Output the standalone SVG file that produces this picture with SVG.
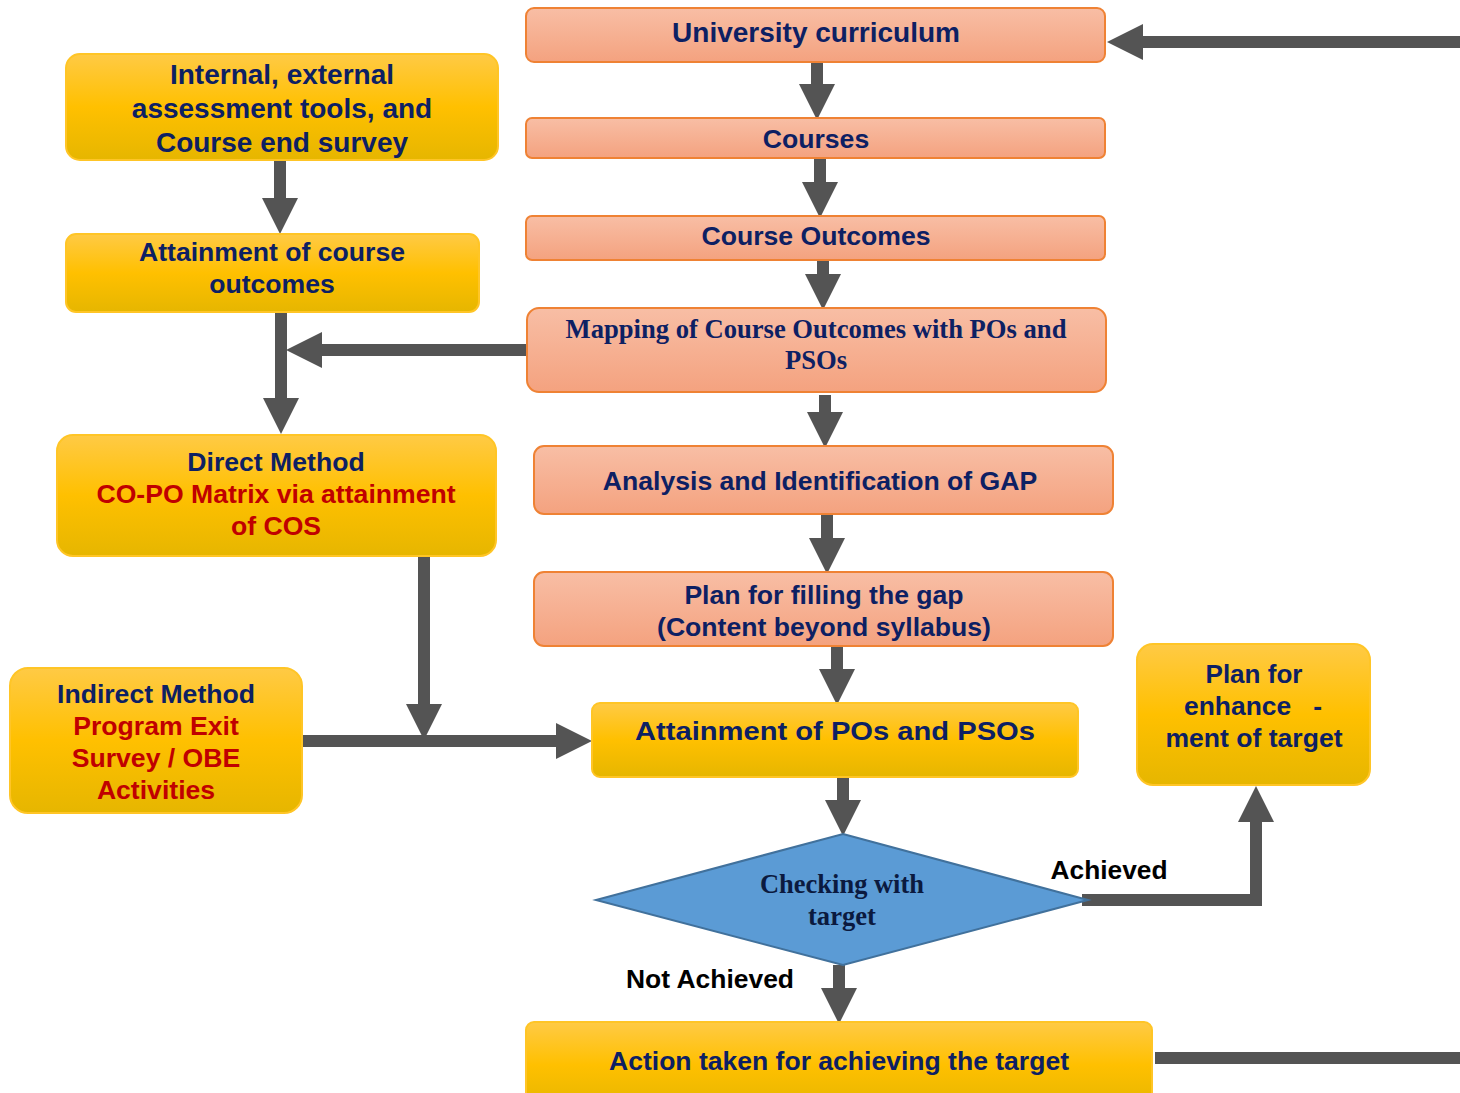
<svg xmlns="http://www.w3.org/2000/svg" width="1460" height="1093" viewBox="0 0 1460 1093">
  <defs>
    <linearGradient id="gOrange" x1="0" y1="0" x2="0" y2="1">
      <stop offset="0" stop-color="#f8bea5"/>
      <stop offset="1" stop-color="#f4a27f"/>
    </linearGradient>
    <linearGradient id="gYellow" x1="0" y1="0" x2="0" y2="1">
      <stop offset="0" stop-color="#ffca45"/>
      <stop offset="0.5" stop-color="#ffc000"/>
      <stop offset="1" stop-color="#e6b600"/>
    </linearGradient>
    <marker id="head" viewBox="0 0 3 3" markerWidth="3" markerHeight="3" refX="0" refY="1.5" orient="auto" markerUnits="strokeWidth">
      <path d="M0,0 L3,1.5 L0,3 Z" fill="#545454"/>
    </marker>
  </defs>
  <style>
    .orange { fill: url(#gOrange); stroke: #ef8234; stroke-width: 2; }
    .yellow { fill: url(#gYellow); stroke: #ffc526; stroke-width: 2; }
    .t { font-family: "Liberation Sans", Arial, sans-serif; font-weight: bold; text-anchor: middle; font-size: 26.6px; fill: #0d2063; }
    .big { font-size: 28px; }
    .serif { font-family: "Liberation Serif", "Times New Roman", serif; }
    .red { fill: #c00000; }
    .blk { fill: #000000; }
    .conn { fill: none; stroke: #545454; stroke-width: 12; }
    .arrow { marker-end: url(#head); }
  </style>

  <!-- connectors -->
  <g id="connectors">
    <path class="conn arrow" d="M1460,42 H1143"/>
    <path class="conn arrow" d="M817,62 V84"/>
    <path class="conn arrow" d="M820,158 V182"/>
    <path class="conn arrow" d="M823,254 V274"/>
    <path class="conn arrow" d="M825,395 V412"/>
    <path class="conn arrow" d="M827,514 V538"/>
    <path class="conn arrow" d="M837,646 V669"/>
    <path class="conn arrow" d="M843,777 V800"/>
    <path class="conn arrow" d="M839,965 V988"/>
    <path class="conn arrow" d="M1082,900 H1256 V822"/>
    <path class="conn" d="M1155,1058 H1460"/>
    <path class="conn arrow" d="M280,160 V198"/>
    <path class="conn arrow" d="M281,312 V398"/>
    <path class="conn arrow" d="M527,350 H322"/>
    <path class="conn arrow" d="M424,548 V704"/>
    <path class="conn arrow" d="M302,741 H556"/>
  </g>

  <!-- right column -->
  <g id="university-curriculum">
    <rect class="orange" x="526" y="8" width="579" height="54" rx="8"/>
    <text class="t big" x="816" y="42">University curriculum</text>
  </g>
  <g id="courses">
    <rect class="orange" x="526" y="118" width="579" height="40" rx="6"/>
    <text class="t" x="816" y="148">Courses</text>
  </g>
  <g id="course-outcomes">
    <rect class="orange" x="526" y="216" width="579" height="44" rx="6"/>
    <text class="t" x="816" y="245">Course Outcomes</text>
  </g>
  <g id="mapping">
    <rect class="orange" x="527" y="308" width="579" height="84" rx="12"/>
    <text class="t serif" x="816" y="338">Mapping of Course Outcomes with POs and</text>
    <text class="t serif" x="816" y="369">PSOs</text>
  </g>
  <g id="gap-analysis">
    <rect class="orange" x="534" y="446" width="579" height="68" rx="10"/>
    <text class="t" x="820" y="490">Analysis and Identification of GAP</text>
  </g>
  <g id="gap-plan">
    <rect class="orange" x="534" y="572" width="579" height="74" rx="10"/>
    <text class="t" x="824" y="604">Plan for filling the gap</text>
    <text class="t" x="824" y="636">(Content beyond syllabus)</text>
  </g>
  <g id="po-attainment">
    <rect class="yellow" x="592" y="703" width="486" height="74" rx="8"/>
    <text class="t" x="835" y="740" font-size="31" textLength="400" lengthAdjust="spacingAndGlyphs">Attainment of POs and PSOs</text>
  </g>
  <g id="enhancement-plan">
    <rect class="yellow" x="1137" y="644" width="233" height="141" rx="16"/>
    <text class="t" x="1254" y="683" textLength="97" lengthAdjust="spacingAndGlyphs">Plan for</text>
    <text class="t" x="1253" y="715" textLength="138" lengthAdjust="spacingAndGlyphs" xml:space="preserve">enhance   -</text>
    <text class="t" x="1254" y="747" textLength="177" lengthAdjust="spacingAndGlyphs">ment of target</text>
  </g>
  <g id="target-check">
    <polygon points="843,834 1088,900 843,965 596,900" fill="#5b9bd5" stroke="#41719c" stroke-width="2"/>
    <text class="t serif" x="842" y="893" fill="#0b1a3f" style="fill:#0b1a3f" textLength="164" lengthAdjust="spacingAndGlyphs">Checking with</text>
    <text class="t serif" x="842" y="925" style="fill:#0b1a3f" textLength="68" lengthAdjust="spacingAndGlyphs">target</text>
  </g>
  <g id="action-taken">
    <rect class="yellow" x="526" y="1022" width="626" height="86" rx="8"/>
    <text class="t" x="839" y="1070" textLength="460" lengthAdjust="spacingAndGlyphs">Action taken for achieving the target</text>
  </g>

  <!-- branch labels -->
  <g id="labels">
    <text class="t blk" x="1109" y="879" textLength="117" lengthAdjust="spacingAndGlyphs">Achieved</text>
    <text class="t blk" x="710" y="988" textLength="168" lengthAdjust="spacingAndGlyphs">Not Achieved</text>
  </g>

  <!-- left column -->
  <g id="assessment-tools">
    <rect class="yellow" x="66" y="54" width="432" height="106" rx="14"/>
    <text class="t big" x="282" y="84">Internal, external</text>
    <text class="t big" x="282" y="118">assessment tools, and</text>
    <text class="t big" x="282" y="152">Course end survey</text>
  </g>
  <g id="co-attainment">
    <rect class="yellow" x="66" y="234" width="413" height="78" rx="10"/>
    <text class="t" x="272" y="261">Attainment of course</text>
    <text class="t" x="272" y="293">outcomes</text>
  </g>
  <g id="direct-method">
    <rect class="yellow" x="57" y="435" width="439" height="121" rx="16"/>
    <text class="t" x="276" y="471">Direct Method</text>
    <text class="t red" x="276" y="503">CO-PO Matrix via attainment</text>
    <text class="t red" x="276" y="535">of COS</text>
  </g>
  <g id="indirect-method">
    <rect class="yellow" x="10" y="668" width="292" height="145" rx="18"/>
    <text class="t" x="156" y="703">Indirect Method</text>
    <text class="t red" x="156" y="735">Program Exit</text>
    <text class="t red" x="156" y="767">Survey / OBE</text>
    <text class="t red" x="156" y="799">Activities</text>
  </g>
</svg>
